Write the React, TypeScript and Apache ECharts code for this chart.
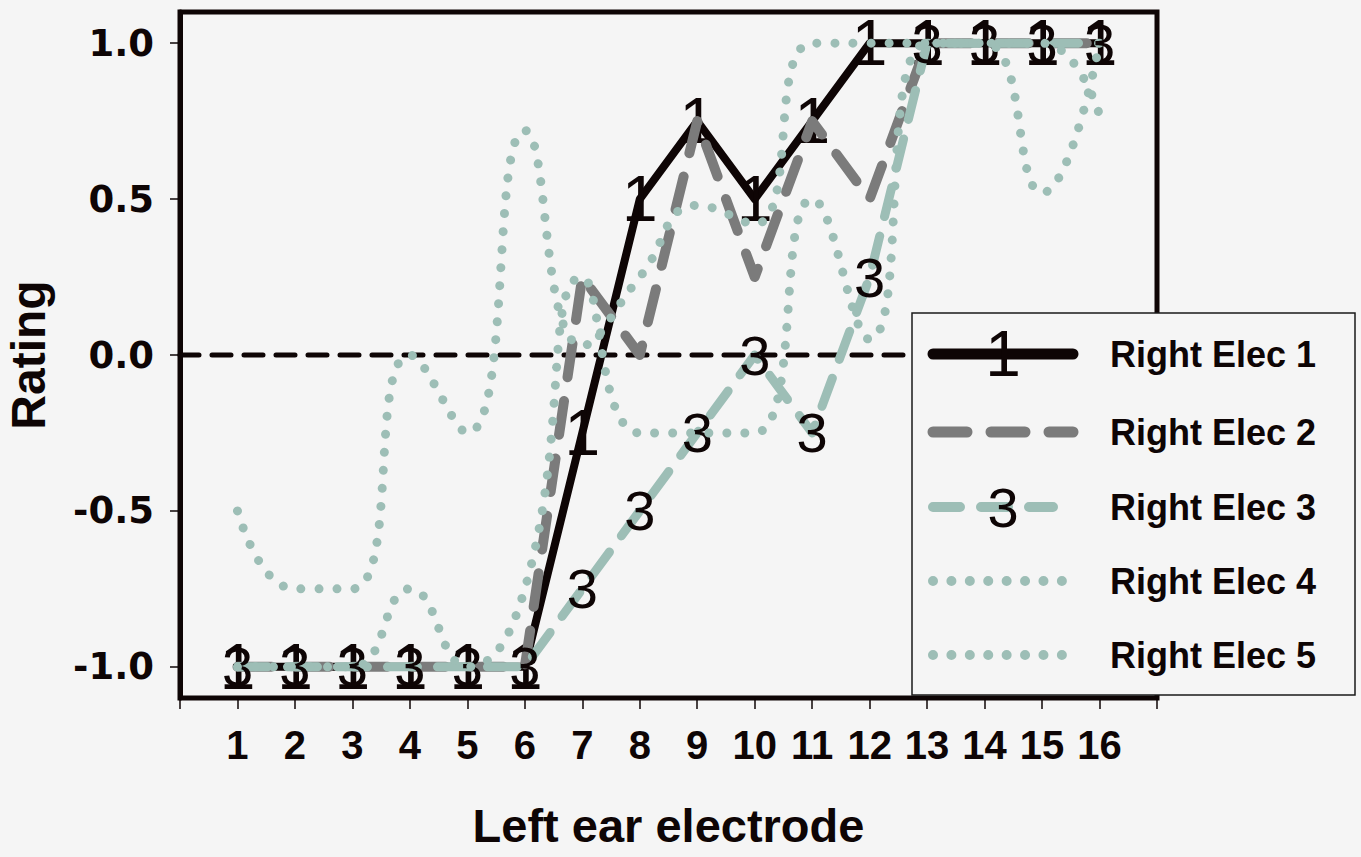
import React, { useEffect, useRef } from "react";
import * as echarts from "echarts";

const ELECTRODES = [1, 2, 3, 4, 5, 6, 7, 8, 9, 10, 11, 12, 13, 14, 15, 16];
const ELEC1 = [-1, -1, -1, -1, -1, -1, -0.25, 0.5, 0.75, 0.5, 0.75, 1, 1, 1, 1, 1];
const ELEC2 = [-1, -1, -1, -1, -1, -1, 0.25, 0, 0.75, 0.25, 0.75, 0.5, 1, 1, 1, 1];
const ELEC3 = [-1, -1, -1, -1, -1, -1, -0.75, -0.5, -0.25, 0, -0.25, 0.25, 1, 1, 1, 1];
const ELEC4 = [-0.5, -0.75, -0.75, 0, -0.25, 0.72, 0.03, 0.25, 0.48, 0.42, 1, 1, 1, 1, 0.52, 1];
const ELEC5 = [-1, -1, -1, -0.75, -1, -0.75, 0.25, -0.25, -0.25, -0.25, 0.5, 0.05, 1, 1, 1, 0.77];
const REFERENCE_LINE = [[0, 0], [17, 0]];
const Y_TICKS = [-1, -0.5, 0, 0.5, 1];
const LEGEND_NAMES = ["Right Elec 1", "Right Elec 2", "Right Elec 3", "Right Elec 4", "Right Elec 5"];

const BLACK = "#0e0505";
const GREY = "#7b7b7b";
const TEAL = "#9dbeb6";
const BG = "#f5f5f5";
const SANS = "Liberation Sans";

function pairs(ys: number[]) {
  return ELECTRODES.map((x, i) => [x, ys[i]]);
}

export default function App() {
  const ref = useRef<HTMLDivElement>(null);
  useEffect(() => {
    document.body.style.margin = "0";
    document.body.style.background = BG;
    const chart = echarts.init(ref.current!, null, { renderer: "svg" });
    const hidden = { color: "rgba(0,0,0,0)" };
    const rows = [354, 432, 507, 581, 655];
    const lx1 = 933;
    const lx2 = 1073;
    const legendEls: any[] = [
      {
        type: "rect",
        shape: { x: 912, y: 313, width: 443, height: 382 },
        style: { fill: BG, stroke: "#1a1a1a", lineWidth: 1.5 },
        z: 100,
      },
      {
        type: "line",
        shape: { x1: lx1, y1: rows[0], x2: lx2, y2: rows[0] },
        style: { stroke: BLACK, lineWidth: 11, lineCap: "round" },
        z: 101,
      },
      {
        type: "text",
        x: 1003,
        y: rows[0],
        style: { text: "1", fontSize: 64, fontFamily: SANS, fill: BLACK, align: "center", verticalAlign: "middle" },
        z: 102,
      },
      {
        type: "line",
        shape: { x1: lx1, y1: rows[1], x2: lx2, y2: rows[1] },
        style: { stroke: GREY, lineWidth: 11, lineCap: "round", lineDash: [34, 24] },
        z: 101,
      },
      {
        type: "line",
        shape: { x1: lx1, y1: rows[2], x2: 1053, y2: rows[2] },
        style: { stroke: TEAL, lineWidth: 10, lineCap: "round", lineDash: [27, 21] },
        z: 101,
      },
      {
        type: "text",
        x: 1003,
        y: rows[2],
        style: { text: "3", fontSize: 56, fontFamily: SANS, fill: BLACK, align: "center", verticalAlign: "middle" },
        z: 102,
      },
      {
        type: "line",
        shape: { x1: lx1, y1: rows[3], x2: 1062, y2: rows[3] },
        style: { stroke: TEAL, lineWidth: 10, lineCap: "round", lineDash: [0.01, 18.4] },
        z: 101,
      },
      {
        type: "line",
        shape: { x1: lx1, y1: rows[4], x2: 1062, y2: rows[4] },
        style: { stroke: TEAL, lineWidth: 10, lineCap: "round", lineDash: [0.01, 18.4] },
        z: 101,
      },
    ];
    LEGEND_NAMES.forEach((n, i) => {
      legendEls.push({
        type: "text",
        x: 1110,
        y: rows[i],
        style: {
          text: n,
          fontSize: 36,
          fontWeight: "bold",
          fontFamily: SANS,
          fill: BLACK,
          align: "left",
          verticalAlign: "middle",
        },
        z: 102,
      });
    });

    chart.setOption({
      animation: false,
      backgroundColor: BG,
      grid: {
        left: 180,
        right: 204,
        top: 12,
        bottom: 159,
        containLabel: false,
        outerBoundsMode: "none",
        show: true,
        borderColor: BLACK,
        borderWidth: 5,
        backgroundColor: BG,
      },
      xAxis: {
        type: "value",
        min: 0,
        max: 17,
        interval: 1,
        name: "Left ear electrode",
        nameLocation: "middle",
        nameGap: 104,
        nameTextStyle: { fontSize: 47, fontWeight: "bold", fontFamily: SANS, color: BLACK },
        axisLine: { show: true, onZero: false, lineStyle: { color: BLACK, width: 4 } },
        axisTick: { show: true, length: 11, lineStyle: { color: BLACK, width: 1.5 } },
        axisLabel: {
          margin: 27,
          fontSize: 40,
          fontWeight: "bold",
          fontFamily: SANS,
          color: BLACK,
          formatter: (v: number) => (v >= 1 && v <= 16 ? String(v) : ""),
        },
        splitLine: { show: false },
      },
      yAxis: {
        type: "value",
        min: -1.1,
        max: 1.1,
        name: "Rating",
        nameLocation: "middle",
        nameRotate: 90,
        nameGap: 128,
        nameTextStyle: { fontSize: 48, fontWeight: "bold", fontFamily: SANS, color: BLACK },
        axisLine: { show: true, onZero: false, lineStyle: { color: BLACK, width: 5 } },
        axisTick: { show: true, length: 10, customValues: Y_TICKS, lineStyle: { color: BLACK, width: 1.5 } },
        axisLabel: {
          customValues: Y_TICKS,
          margin: 26,
          fontSize: 37,
          fontWeight: "bold",
          fontFamily: "DejaVu Sans",
          color: BLACK,
          formatter: (v: number) => v.toFixed(1),
        },
        splitLine: { show: false },
      },
      graphic: { elements: legendEls },
      series: [
        {
          name: "zero",
          type: "line",
          data: REFERENCE_LINE,
          symbol: "none",
          silent: true,
          lineStyle: { color: BLACK, width: 5, type: [19, 13], cap: "round" },
          z: 1,
        },
        {
          name: LEGEND_NAMES[0],
          type: "line",
          data: pairs(ELEC1),
          symbol: "circle",
          symbolSize: 1,
          itemStyle: hidden,
          lineStyle: { color: BLACK, width: 8, type: "solid", cap: "round", join: "round" },
          label: {
            show: true,
            position: "inside",
            formatter: "1",
            fontSize: 64,
            fontFamily: SANS,
            color: BLACK,
          },
          z: 2,
        },
        {
          name: LEGEND_NAMES[1],
          type: "line",
          data: pairs(ELEC2),
          symbol: "none",
          lineStyle: { color: GREY, width: 10, type: [34, 24], cap: "round", join: "round" },
          z: 3,
        },
        {
          name: LEGEND_NAMES[2],
          type: "line",
          data: pairs(ELEC3),
          symbol: "circle",
          symbolSize: 1,
          itemStyle: hidden,
          lineStyle: { color: TEAL, width: 9, type: [30, 20], cap: "round", join: "round" },
          label: {
            show: true,
            position: "inside",
            formatter: "3",
            fontSize: 56,
            fontFamily: SANS,
            color: BLACK,
          },
          z: 4,
        },
        {
          name: LEGEND_NAMES[3],
          type: "line",
          data: pairs(ELEC4),
          symbol: "none",
          smooth: true,
          lineStyle: { color: TEAL, width: 9, type: [0.01, 18], cap: "round" },
          z: 5,
        },
        {
          name: LEGEND_NAMES[4],
          type: "line",
          data: pairs(ELEC5),
          symbol: "none",
          smooth: true,
          lineStyle: { color: TEAL, width: 9, type: [0.01, 18], cap: "round" },
          z: 5,
        },
      ],
    });
    return () => chart.dispose();
  }, []);
  return <div ref={ref} style={{ width: 1361, height: 857 }} />;
}
